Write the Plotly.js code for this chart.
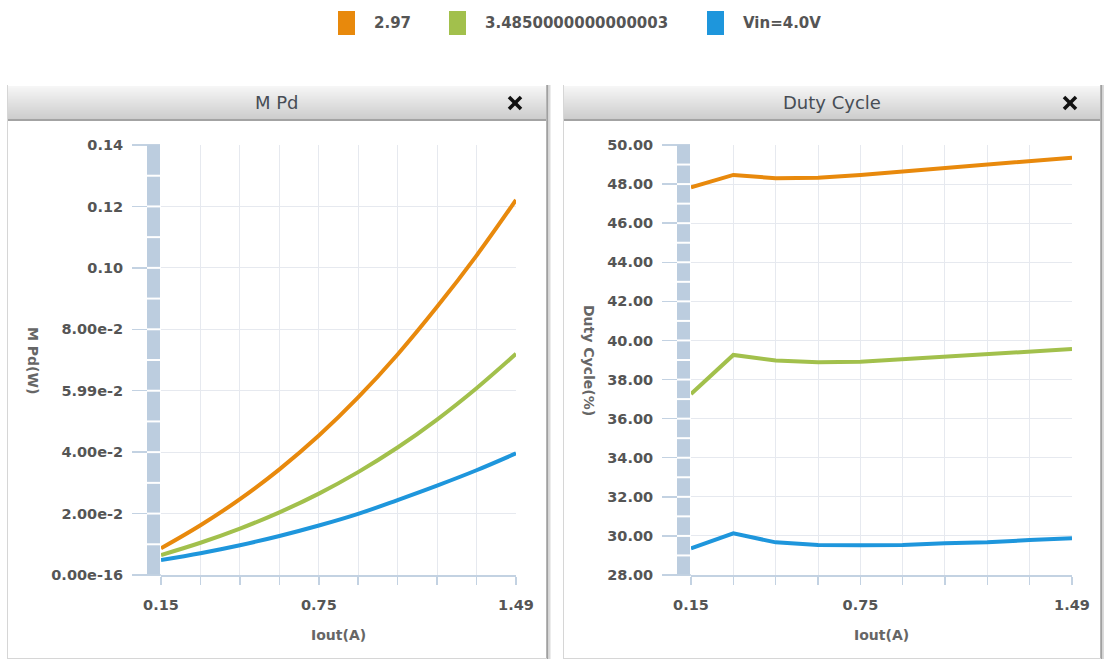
<!DOCTYPE html>
<html><head><meta charset="utf-8">
<script src="https://cdn.plot.ly/plotly-3.0.1.min.js"></script>
<style>html,body{margin:0;padding:0;background:#fff;} #chart{width:1104px;height:660px;}</style>
</head><body><div id="chart"></div>
<script>
// ---------- DATA ----------
const iout = [0.15, 0.299, 0.448, 0.597, 0.746, 0.894, 1.043, 1.192, 1.341, 1.49];
const seriesNames = ['2.97', '3.4850000000000003', 'Vin=4.0V'];
const seriesColors = ['#e8890c', '#a2c04c', '#1e96dc'];

const pd_297  = [0.0087, 0.0162, 0.0247, 0.0344, 0.0454, 0.0578, 0.0718, 0.0873, 0.1040, 0.1221];
const pd_3485 = [0.0065, 0.0105, 0.0151, 0.0204, 0.0265, 0.0335, 0.0415, 0.0506, 0.0608, 0.0720];
const pd_40   = [0.0049, 0.0071, 0.0097, 0.0127, 0.0161, 0.0199, 0.0244, 0.0291, 0.0341, 0.0396];

const duty_297  = [47.83, 48.47, 48.30, 48.33, 48.47, 48.64, 48.81, 49.01, 49.18, 49.35];
const duty_3485 = [37.26, 39.26, 38.97, 38.88, 38.91, 39.03, 39.17, 39.31, 39.42, 39.56];
const duty_40   = [29.36, 30.13, 29.67, 29.53, 29.52, 29.53, 29.62, 29.67, 29.79, 29.88];

const xTickText = ['0.15', '', '', '', '0.75', '', '', '', '', '1.49'];
const pdTickVals = [0, 0.02, 0.04, 0.06, 0.08, 0.10, 0.12, 0.14];
const pdTickText = ['0.00e-16', '2.00e-2', '4.00e-2', '5.99e-2', '8.00e-2', '0.10', '0.12', '0.14'];
const dutyTickVals = [28, 30, 32, 34, 36, 38, 40, 42, 44, 46, 48, 50];
const dutyTickText = ['28.00', '30.00', '32.00', '34.00', '36.00', '38.00', '40.00', '42.00', '44.00', '46.00', '48.00', '50.00'];

const panelTitles = ['M Pd', 'Duty Cycle'];
const yTitles = ['M Pd(W)', 'Duty Cycle(%)'];
const xTitle = 'Iout(A)';

// ---------- HELPERS ----------
const W = 1104, H = 660;
const px = v => v / W;
const py = v => 1 - v / H;
const FONT = 'DejaVu Sans, Verdana, sans-serif';

const pdSeries = [pd_297, pd_3485, pd_40];
const dutySeries = [duty_297, duty_3485, duty_40];
const traces = [];
pdSeries.forEach((s, i) => traces.push({
  type: 'scatter', mode: 'lines', x: iout, y: s, name: seriesNames[i],
  line: {color: seriesColors[i], width: 4, shape: 'spline', smoothing: 1},
  xaxis: 'x', yaxis: 'y', showlegend: false, hoverinfo: 'x+y'
}));
dutySeries.forEach((s, i) => traces.push({
  type: 'scatter', mode: 'lines', x: iout, y: s, name: seriesNames[i],
  line: {color: seriesColors[i], width: 4},
  xaxis: 'x2', yaxis: 'y2', showlegend: false, hoverinfo: 'x+y'
}));

const gridC = '#e6e9ef', axC = '#c3d2e2', tickFont = {family: FONT, size: 14.5, color: '#555', weight: 'bold'};

function xAxis(domain) {
  return {domain: domain, range: [0.15, 1.49], tickmode: 'array', tickvals: iout, ticktext: xTickText,
    showgrid: true, gridcolor: gridC, gridwidth: 1, zeroline: false, showline: true, linecolor: axC, linewidth: 1.5,
    ticks: 'outside', ticklen: 8, tickcolor: axC, tickwidth: 1.5, tickfont: tickFont, ticklabelstandoff: 8, fixedrange: true};
}
function yAxis(anchor, range, vals, text) {
  return {domain: [1 - 575 / H, 1 - 145 / H], anchor: anchor, range: range, tickmode: 'array', tickvals: vals, ticktext: text,
    showgrid: true, gridcolor: gridC, gridwidth: 1, zeroline: false, showline: false,
    ticks: 'outside', ticklen: 28, tickcolor: axC, tickwidth: 1.5, tickfont: tickFont, ticklabelstandoff: 6, fixedrange: true};
}

const shapes = [];
const annotations = [];
function rect(x0, y0, x1, y1, fill, layer) {
  shapes.push({type: 'rect', xref: 'paper', yref: 'paper', x0: px(x0), x1: px(x1), y0: py(y1), y1: py(y0),
    fillcolor: fill, line: {width: 0}, layer: layer || 'above'});
}
function hex2(n) { return Math.round(n).toString(16).padStart(2, '0'); }

// Panels
const panels = [{x0: 7, x1: 547, cx: 277, close: 515}, {x0: 563, x1: 1101, cx: 832, close: 1070}];
panels.forEach((p, k) => {
  rect(p.x0, 85, p.x0 + 1, 659, '#d6d6d6');
  rect(p.x1 - 1, 85, p.x1, 659, '#b5b5b5');
  rect(p.x1, 85, p.x1 + 1.5, 659, '#a0a0a0');
  rect(p.x1 + 1.5, 85, p.x1 + 3.5, 659, '#dadada');
  rect(p.x0, 658, p.x1, 659, '#d6d6d6');
  const top = 86, bot = 119;
  for (let y = top; y < bot; y++) {
    const t = (y - top) / (bot - top);
    const c = 246 - t * (246 - 204);
    rect(p.x0 + 1, y, p.x1 - 1, y + 1, '#' + hex2(c) + hex2(c) + hex2(c));
  }
  rect(p.x0 + 1, 119, p.x1 - 1, 121, '#a3a3a3');
  const cx = p.close, cy = 103, s = 6;
  shapes.push({type: 'line', xref: 'paper', yref: 'paper', x0: px(cx - s), y0: py(cy - s), x1: px(cx + s), y1: py(cy + s), line: {color: '#111', width: 3.6}});
  shapes.push({type: 'line', xref: 'paper', yref: 'paper', x0: px(cx - s), y0: py(cy + s), x1: px(cx + s), y1: py(cy - s), line: {color: '#111', width: 3.6}});
  annotations.push({xref: 'paper', yref: 'paper', x: px(p.cx), y: py(103), text: panelTitles[k], showarrow: false,
    xanchor: 'center', yanchor: 'middle', font: {family: FONT, size: 18, color: '#474d55'}});
});

// Gray axis bars with dividers
const bars = [{x0: 147, x1: 160, yref: 'y', lo: 0, hi: 0.14, step: 0.01}, {x0: 677, x1: 690, yref: 'y2', lo: 28, hi: 50, step: 1}];
bars.forEach(b => {
  rect(b.x0, 145, b.x1, 575, '#bccddf');
  const n = Math.round((b.hi - b.lo) / b.step);
  for (let k = 1; k < n; k++) {
    const v = b.lo + k * b.step;
    shapes.push({type: 'line', xref: 'paper', yref: b.yref, x0: px(b.x0), x1: px(b.x1), y0: v, y1: v,
      line: {color: '#ffffff', width: 2}, layer: 'above'});
  }
});
shapes.push({type: 'line', xref: 'paper', yref: 'paper', x0: px(133), x1: px(161), y0: py(575), y1: py(575), line: {color: axC, width: 1.5}});
shapes.push({type: 'line', xref: 'paper', yref: 'paper', x0: px(663), x1: px(691), y0: py(575), y1: py(575), line: {color: axC, width: 1.5}});

// Axis titles
const axTitleFont = {family: FONT, size: 14, color: '#666', weight: 'bold'};
annotations.push({xref: 'paper', yref: 'paper', x: px(33), y: py(360), text: yTitles[0], textangle: 90, showarrow: false, xanchor: 'center', yanchor: 'middle', font: axTitleFont});
annotations.push({xref: 'paper', yref: 'paper', x: px(589), y: py(360), text: yTitles[1], textangle: 90, showarrow: false, xanchor: 'center', yanchor: 'middle', font: axTitleFont});
annotations.push({xref: 'paper', yref: 'paper', x: px(338.5), y: py(635), text: xTitle, showarrow: false, xanchor: 'center', yanchor: 'middle', font: axTitleFont});
annotations.push({xref: 'paper', yref: 'paper', x: px(881.5), y: py(635), text: xTitle, showarrow: false, xanchor: 'center', yanchor: 'middle', font: axTitleFont});

// Legend (swatch + text)
const legendX = [338, 449, 707];
seriesNames.forEach((n, i) => {
  rect(legendX[i], 11, legendX[i] + 17, 35, seriesColors[i]);
  annotations.push({xref: 'paper', yref: 'paper', x: px(legendX[i] + 34), y: py(23), text: n, showarrow: false,
    xanchor: 'left', yanchor: 'middle', font: {family: FONT, size: 15, color: '#555', weight: 'bold'}});
});

const layout = {
  width: W, height: H, margin: {l: 0, r: 0, t: 0, b: 0, pad: 0},
  paper_bgcolor: '#ffffff', plot_bgcolor: 'rgba(0,0,0,0)',
  showlegend: false,
  xaxis: xAxis([161 / W, 516 / W]),
  yaxis: yAxis('x', [0, 0.14], pdTickVals, pdTickText),
  xaxis2: xAxis([691 / W, 1072 / W]),
  yaxis2: yAxis('x2', [28, 50], dutyTickVals, dutyTickText),
  shapes: shapes, annotations: annotations,
  font: {family: FONT}
};
layout.xaxis2.anchor = 'y2';
layout.xaxis.anchor = 'y';

Plotly.newPlot('chart', traces, layout, {displayModeBar: false, responsive: false, staticPlot: true});
</script>
</body></html>
